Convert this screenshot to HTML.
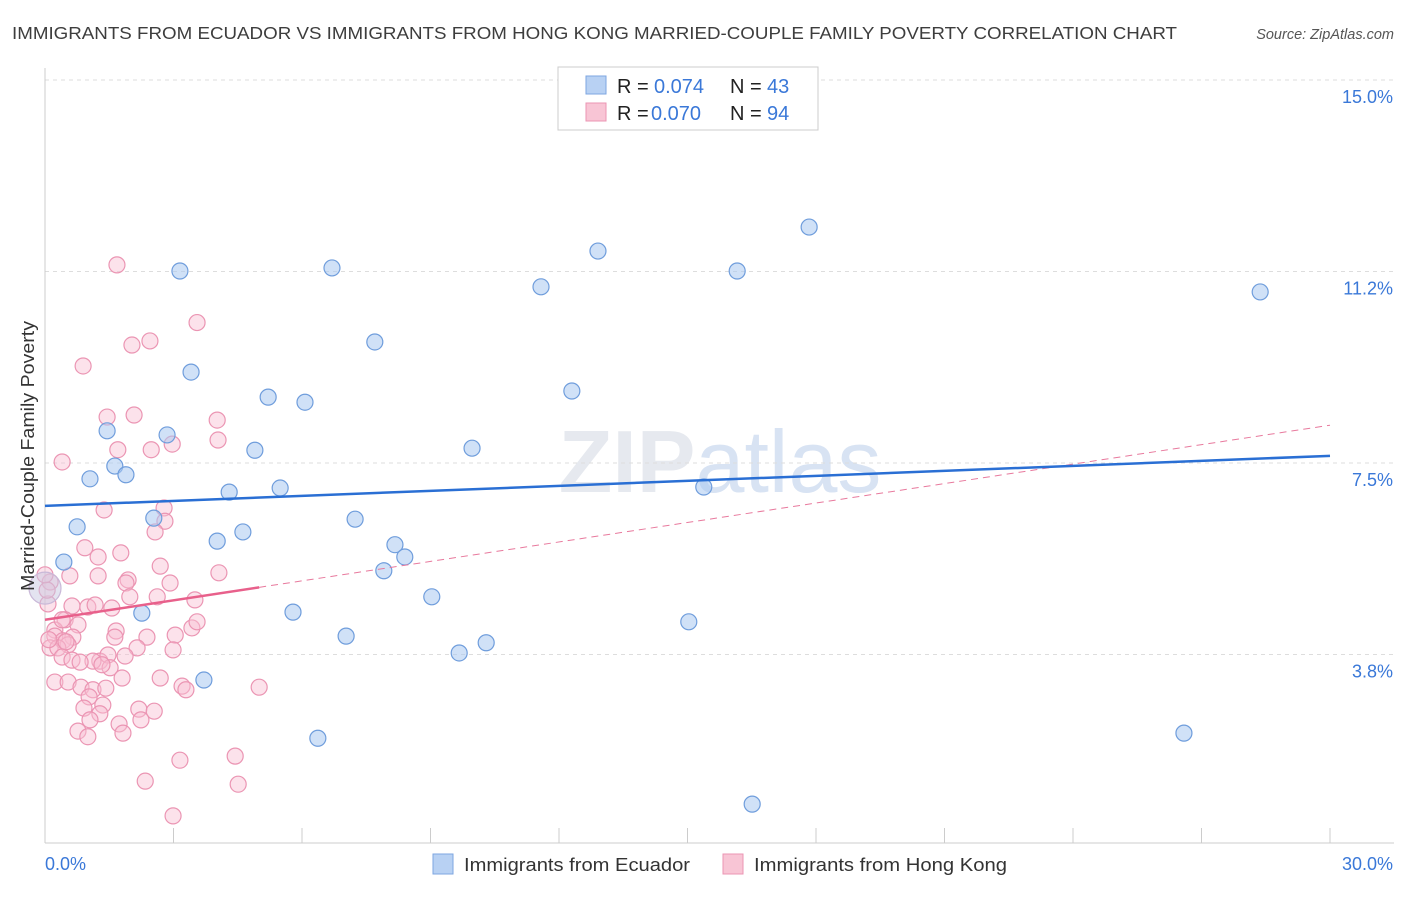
<!DOCTYPE html>
<html><head><meta charset="utf-8">
<style>
body{margin:0;background:#fff;font-family:"Liberation Sans",sans-serif;}
svg text{font-family:"Liberation Sans",sans-serif;}
</style></head>
<body>
<svg id="chart" width="1406" height="892">
<text x="12" y="39" font-size="17.5" fill="#3d3d3d" textLength="1165" lengthAdjust="spacingAndGlyphs">IMMIGRANTS FROM ECUADOR VS IMMIGRANTS FROM HONG KONG MARRIED-COUPLE FAMILY POVERTY CORRELATION CHART</text>
<text x="1394" y="39" font-size="14.5" fill="#555" text-anchor="end" font-style="italic">Source: ZipAtlas.com</text>
<text x="720" y="492" font-size="88" fill="#e6e9ef" text-anchor="middle" font-family="Liberation Serif"><tspan font-weight="bold">ZIP</tspan><tspan font-family="Liberation Sans" fill="#d8e3f3">atlas</tspan></text>
<g id="grid"></g>
<g id="axes"></g>
<g id="marks"></g>
<text transform="translate(34,456) rotate(-90)" font-size="18" fill="#333" text-anchor="middle" textLength="270" lengthAdjust="spacingAndGlyphs">Married-Couple Family Poverty</text>
<g>
<rect x="558" y="67" width="260" height="63" fill="#fff" stroke="#ccc"/>
<rect x="586" y="76" width="20" height="18" fill="#b8d1f3" stroke="#7ea6e0"/>
<rect x="586" y="103" width="20" height="18" fill="#f8c5d5" stroke="#eb95b3"/>
<text x="617" y="93" font-size="20" fill="#222">R = </text><text x="654" y="93" font-size="20" fill="#3a78d8">0.074</text>
<text x="730" y="93" font-size="20" fill="#222">N = </text><text x="767" y="93" font-size="20" fill="#3a78d8">43</text>
<text x="617" y="120" font-size="20" fill="#222">R = </text><text x="651" y="120" font-size="20" fill="#3a78d8">0.070</text>
<text x="730" y="120" font-size="20" fill="#222">N = </text><text x="767" y="120" font-size="20" fill="#3a78d8">94</text>
</g>
<g>
<rect x="433" y="854" width="20" height="20" fill="#b8d1f3" stroke="#7ea6e0"/>
<text x="464" y="871" font-size="18" fill="#333" textLength="226" lengthAdjust="spacingAndGlyphs">Immigrants from Ecuador</text>
<rect x="723" y="854" width="20" height="20" fill="#f8c5d5" stroke="#eb95b3"/>
<text x="754" y="871" font-size="18" fill="#333" textLength="253" lengthAdjust="spacingAndGlyphs">Immigrants from Hong Kong</text>
</g>
</svg>
<script>
const yTicks=[3.75,7.5,11.25,15];
const yTickLabels=["3.8%","7.5%","11.2%","15.0%"];
const xTicks=[0,3,6,9,12,15,18,21,24,27,30];
const xEndLabels=["0.0%","30.0%"];
const ecuadorX=[3.15,6.70,12.91,17.84,16.16,11.58,28.37,7.70,3.41,12.30,5.21,6.07,1.45,2.85,4.90,9.97,1.63,1.05,1.89,4.30,5.49,15.38,2.54,0.75,7.24,4.62,4.02,8.17,8.40,0.44,7.91,0,9.03,5.79,2.26,15.03,7.03,10.30,9.67,3.71,6.37,26.59,16.51];
const ecuadorY=[11.26,11.32,11.65,12.12,11.26,10.95,10.85,9.87,9.28,8.91,8.79,8.69,8.13,8.05,7.75,7.79,7.44,7.19,7.27,6.93,7.01,7.03,6.42,6.25,6.40,6.15,5.97,5.90,5.66,5.56,5.39,5.05,4.88,4.58,4.56,4.39,4.11,3.98,3.78,3.25,2.11,2.21,0.82];
const hkX=[1.68,3.55,2.03,2.45,0.89,1.45,2.08,4.02,2.97,4.04,1.70,2.48,0.40,1.38,2.78,2.80,2.57,0.93,1.77,1.24,0.58,1.24,1.94,1.89,2.69,2.92,4.06,0.12,0.07,1.98,2.62,3.50,1.00,1.17,1.56,0.63,0.47,0.77,0.23,0.23,0.65,0.42,0.54,0.12,0.30,1.66,2.38,3.04,3.43,3.55,1.63,1.28,1.12,2.15,1.47,1.87,0.40,0.63,0.82,2.99,1.52,0.23,0.54,0.84,1.12,1.80,2.69,1.42,3.20,3.29,5.00,1.03,1.35,0.91,2.19,2.55,1.28,1.05,1.73,2.24,0.77,1.00,1.82,4.44,3.15,2.34,4.51,2.99,0.05,0.40,0.09,0.49,1.33,0];
const hkY=[11.38,10.25,9.81,9.89,9.40,8.40,8.44,8.34,7.87,7.95,7.76,7.76,7.52,6.58,6.62,6.36,6.15,5.84,5.74,5.66,5.29,5.29,5.21,5.15,5.48,5.15,5.35,5.17,4.74,4.88,4.88,4.82,4.68,4.72,4.66,4.70,4.43,4.33,4.23,4.11,4.09,4.02,3.94,3.88,3.88,4.21,4.09,4.13,4.27,4.39,4.09,3.62,3.62,3.88,3.74,3.72,3.70,3.64,3.60,3.84,3.49,3.21,3.21,3.11,3.06,3.29,3.29,3.09,3.13,3.06,3.11,2.92,2.76,2.70,2.68,2.64,2.59,2.47,2.39,2.47,2.25,2.14,2.21,1.76,1.68,1.27,1.21,0.59,5.01,4.43,4.04,4.00,3.55,5.31];
const ecuadorTrend=[6.66,7.64];
const hkTrend=[4.43,8.24];
const hkSolidEnd=5.0;

const NS="http://www.w3.org/2000/svg";
const X=v=>45+v/30*1285;
const Y=v=>846-v/15*766;
function mk(tag,attrs,parent){const e=document.createElementNS(NS,tag);for(const k in attrs)e.setAttribute(k,attrs[k]);parent.appendChild(e);return e;}
const grid=document.getElementById('grid'),axes=document.getElementById('axes'),marks=document.getElementById('marks');
yTicks.forEach((t,i)=>{
 const l=mk('line',{x1:45,x2:1394,y1:Y(t),y2:Y(t),stroke:'#ddd','stroke-dasharray':'4,4'},grid);
 
 
 const tx=mk('text',{x:1393,y:Y(t)+23,'font-size':18,fill:'#3a78d8','text-anchor':'end'},axes);
 tx.textContent=yTickLabels[i];
 
 
});
const ax=mk('line',{x1:45,x2:1394,y1:843,y2:843,stroke:'#ccc'},axes);


const ay=mk('line',{x1:45,x2:45,y1:68,y2:843,stroke:'#ccc'},axes);


xTicks.forEach(t=>{
 const l=mk('line',{x1:X(t),x2:X(t),y1:828,y2:843,stroke:'#ccc'},axes);
 
 
});
const xl0=mk('text',{x:45,y:870,'font-size':18,fill:'#3a78d8'},axes);xl0.textContent=xEndLabels[0];


const xl1=mk('text',{x:1393,y:870,'font-size':18,fill:'#3a78d8','text-anchor':'end'},axes);xl1.textContent=xEndLabels[1];



hkX.forEach((x,i)=>{
 const c=mk('circle',{cx:X(x),cy:Y(hkY[i]),r:8,fill:'rgba(248,190,210,0.45)',stroke:'#eb95b3','stroke-width':1.2},marks);
 
 
});
ecuadorX.forEach((x,i)=>{
 const big=(x===0);
 const c=mk('circle',{cx:X(x),cy:Y(ecuadorY[i]),r:big?16:8,fill:big?'rgba(200,200,225,0.5)':'rgba(170,200,240,0.55)',stroke:big?'#c9b8d8':'#6f9ddc','stroke-width':1.2},marks);
 
 
});
const hkAt=v=>hkTrend[0]+(hkTrend[1]-hkTrend[0])*v/30;
const hd=mk('line',{x1:X(hkSolidEnd),y1:Y(hkAt(hkSolidEnd)),x2:X(30),y2:Y(hkTrend[1]),stroke:'#e8799d','stroke-width':1,'stroke-dasharray':'7,5'},marks);


const hs=mk('line',{x1:X(0),y1:Y(hkTrend[0]),x2:X(hkSolidEnd),y2:Y(hkAt(hkSolidEnd)),stroke:'#e8608b','stroke-width':2.5},marks);


const et=mk('line',{x1:X(0),y1:Y(ecuadorTrend[0]),x2:X(30),y2:Y(ecuadorTrend[1]),stroke:'#2a6fd4','stroke-width':2.5},marks);


</script>
</body></html>
